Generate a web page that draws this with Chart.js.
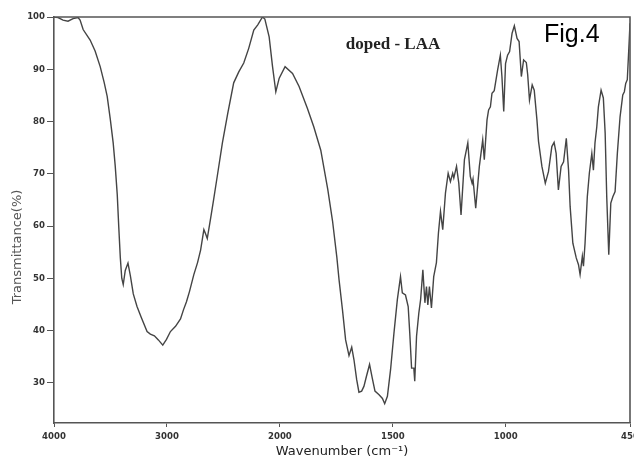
<!DOCTYPE html>
<html>
<head>
<meta charset="utf-8">
<script src="https://cdn.jsdelivr.net/npm/chart.js@4.4.1/dist/chart.umd.min.js"></script>
<style>
  html, body { margin: 0; padding: 0; background: #fff; overflow: hidden; }
  #wrap { width: 634px; height: 461px; position: relative; }
</style>
</head>
<body>
<div id="wrap"><canvas id="c" width="634" height="461"></canvas></div>
<script>
// ---- Data ----
const wavenumbers = [
  4000, 3964, 3920, 3876, 3831, 3787, 3769, 3742, 3680, 3636,
  3591, 3556, 3529, 3502, 3476, 3458, 3440, 3427, 3413, 3400,
  3387, 3369, 3345, 3324, 3298, 3265, 3227, 3176, 3147, 3111,
  3076, 3037, 3004, 2969, 2924, 2880, 2853, 2827, 2800, 2762,
  2729, 2702, 2673, 2658, 2643, 2613, 2587, 2551, 2509, 2462,
  2409, 2364, 2320, 2276, 2231, 2196, 2154, 2133, 2095, 2065,
  2036, 2006, 1977, 1944, 1915, 1878, 1850, 1819, 1788, 1767,
  1748, 1738, 1723, 1709, 1694, 1682, 1672, 1660, 1650, 1638,
  1628, 1617, 1603, 1591, 1579, 1561, 1546, 1536, 1524, 1510,
  1495, 1480, 1466, 1458, 1444, 1432, 1425, 1417, 1407, 1403,
  1395, 1385, 1377, 1367, 1358, 1351, 1345, 1338, 1329, 1319,
  1307, 1298, 1289, 1279, 1267, 1255, 1245, 1235, 1230, 1218,
  1208, 1198, 1183, 1168, 1157, 1149, 1145, 1133, 1117, 1102,
  1095, 1083, 1076, 1068, 1061, 1051, 1036, 1024, 1017, 1009,
  1001, 992, 983, 972, 962, 950, 941, 931, 921, 909,
  903, 895, 883, 874, 862, 855, 840, 825, 811, 796,
  786, 777, 767, 755, 744, 732, 722, 715, 703, 688,
  678, 671, 661, 656, 649, 639, 630, 619, 612, 605,
  597, 590, 578, 568, 560, 553, 544, 535, 526, 516,
  506, 494, 482, 475, 469, 462, 454, 450
];
const transmittance = [
  100, 99.9, 99.4, 99.2, 99.7, 99.9, 99.4, 97.6, 95.6, 93.5,
  90.5, 87.5, 84.8, 80.5, 75.9, 71.5, 66, 60, 54, 50,
  48.8, 51.5, 52.9, 50.5, 47, 44.6, 42.5, 39.8, 39.3, 39,
  38.2, 37.2, 38.3, 39.8, 40.8, 42.2, 44, 45.5, 47.5, 50.7,
  53, 55.4, 59.3, 58.5, 57.6, 61.5, 65, 70, 75.9, 81.5,
  87.4, 89.5, 91.2, 94, 97.5, 98.5, 100, 99.6, 96.2, 90.5,
  85.7, 88.3, 90.5, 89.2, 86.7, 82.5, 79, 74.5, 67, 61,
  54.1, 49.7, 44, 38.2, 35.2, 36.8, 34.4, 30.6, 28.2, 28.4,
  29.3, 31.2, 33.5, 30.9, 28.4, 27.7, 27, 26, 27.4, 32.5,
  39.5, 45.9, 50.3, 47.2, 46.8, 44.6, 39.5, 32.8, 32.8, 30.3,
  38.9, 43.3, 45.9, 51.6, 45.3, 48.4, 44.9, 48.4, 44.3, 50.3,
  53, 58.7, 62.8, 59.3, 66.3, 70.1, 68.5, 70.1, 69.2, 71.4,
  68.2, 62.1, 72.7, 75.9, 69.5, 68.2, 69, 63.4, 71.4, 76.5,
  72.7, 80.3, 82.2, 82.8, 85.4, 85.9, 89.9, 92.7, 88.6, 81.9,
  91.1, 92.7, 93.4, 96.9, 98.3, 95.9, 95.3, 88.6, 91.8, 91.3,
  89, 84.1, 87, 86, 80.3, 76.2, 71.4, 68.2, 70.4, 75.2,
  76, 73.9, 66.9, 71.4, 72.3, 76.8, 70.7, 63.7, 56.7, 53.9,
  52.6, 50.7, 54.2, 52.3, 56.7, 65.6, 70.1, 73.9, 70.7, 75.9,
  79, 82.8, 86, 84.5, 77.8, 65.6, 54.5, 64.4, 65.6, 66.6,
  73.9, 80.9, 85.1, 85.7, 87.3, 88, 95, 98.8
];
const xTickValues = [4000, 3000, 2000, 1500, 1000, 450];
const yTickValues = [30, 40, 50, 60, 70, 80, 90, 100];

// IR spectrum axis: scale doubles below 2000 cm-1
class IRWaveScale extends Chart.LinearScale {
  static id = 'irwave';
  static defaults = {};
  _u(v) { return v >= 2000 ? 4000 - v : 2000 + 2 * (2000 - v); }
  getPixelForValue(v) {
    const uMax = this._u(450);
    return this.left + this.width * this._u(v) / uMax;
  }
  getValueForPixel(p) {
    const u = (p - this.left) / this.width * this._u(450);
    return u <= 2000 ? 4000 - u : 2000 - (u - 2000) / 2;
  }
}
Chart.register(IRWaveScale);

const framePlugin = {
  id: 'frameAndText',
  afterDraw(chart) {
    const { ctx, chartArea: a } = chart;
    ctx.save();
    ctx.strokeStyle = '#555';
    ctx.lineWidth = 1.6;
    ctx.beginPath();
    ctx.moveTo(a.left, a.top);
    ctx.lineTo(a.right, a.top);
    ctx.lineTo(a.right, a.bottom);
    ctx.stroke();

    ctx.fillStyle = '#222';
    ctx.font = 'bold 17px "Liberation Serif"';
    ctx.textAlign = 'center';
    ctx.textBaseline = 'alphabetic';
    ctx.fillText('doped - LAA', 393, 49);

    ctx.fillStyle = '#000';
    ctx.font = '25px "Liberation Sans"';
    ctx.textAlign = 'left';
    ctx.fillText('Fig.4', 544, 42);

    ctx.fillStyle = '#555';
    ctx.font = '13px "DejaVu Sans"';
    ctx.translate(18, 247);
    ctx.rotate(-Math.PI / 2);
    ctx.textAlign = 'center';
    ctx.textBaseline = 'middle';
    ctx.fillText('Transmittance(%)', 0, 0);
    ctx.restore();
  }
};

const tickFont = { family: 'DejaVu Sans Condensed', size: 9.5, weight: 'bold' };

new Chart(document.getElementById('c'), {
  type: 'line',
  data: {
    datasets: [{
      data: wavenumbers.map((w, i) => ({ x: w, y: transmittance[i] })),
      borderColor: '#444',
      borderWidth: 1.4,
      pointRadius: 0,
      tension: 0,
      fill: false
    }]
  },
  options: {
    responsive: false,
    animation: false,
    events: [],
    layout: { padding: { top: 17, right: 4, left: 0, bottom: 0 } },
    plugins: { legend: { display: false }, tooltip: { enabled: false } },
    scales: {
      x: {
        type: 'irwave',
        min: 450,
        max: 4000,
        afterBuildTicks: s => { s.ticks = xTickValues.map(v => ({ value: v })); },
        afterFit: s => { s.height = 38; s.paddingLeft = 0; s.paddingRight = 0; },
        ticks: {
          autoSkip: false, maxRotation: 0, padding: 4,
          color: '#333', font: tickFont,
          callback: v => String(v)
        },
        grid: { display: true, drawOnChartArea: false, drawTicks: true, tickLength: 4, color: '#555' },
        border: { display: true, color: '#555', width: 1.6 },
        title: {
          display: true, text: 'Wavenumber (cm⁻¹)', color: '#222',
          font: { family: 'DejaVu Sans', size: 13 }, padding: { top: 0, bottom: 2 }
        }
      },
      y: {
        type: 'linear',
        min: 22.3,
        max: 100,
        afterBuildTicks: s => { s.ticks = yTickValues.map(v => ({ value: v })); },
        afterFit: s => { s.width = 54; },
        ticks: {
          padding: 2, color: '#333', font: tickFont,
          callback: v => String(v)
        },
        grid: { display: true, drawOnChartArea: false, drawTicks: true, tickLength: 7, color: '#555' },
        border: { display: true, color: '#555', width: 1.6 }
      }
    }
  },
  plugins: [framePlugin]
});
</script>
</body>
</html>
